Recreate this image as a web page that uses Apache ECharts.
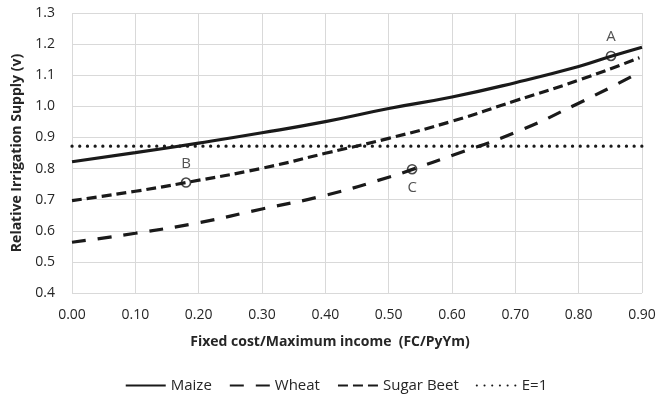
<!DOCTYPE html>
<html>
<head>
<meta charset="utf-8">
<script src="https://cdn.jsdelivr.net/npm/echarts@6/dist/echarts.min.js"></script>
<style>
  html, body { margin: 0; padding: 0; background: #fff; }
  #chart { width: 672px; height: 401px; }
</style>
</head>
<body>
<div id="chart"></div>
<script>
// values
var maizeX = [0, 0.1, 0.2, 0.3, 0.4, 0.5, 0.6, 0.7, 0.8, 0.85, 0.9];
var maizeY = [0.822, 0.851, 0.882, 0.915, 0.951, 0.993, 1.03, 1.076, 1.128, 1.16, 1.19];

var wheatX = [0, 0.1, 0.2, 0.3, 0.4, 0.5, 0.54, 0.6, 0.7, 0.8, 0.883];
var wheatY = [0.563, 0.592, 0.626, 0.67, 0.714, 0.772, 0.799, 0.842, 0.916, 1.01, 1.095];

var beetX = [0, 0.1, 0.18, 0.3, 0.4, 0.5, 0.6, 0.7, 0.8, 0.896];
var beetY = [0.697, 0.727, 0.755, 0.801, 0.849, 0.897, 0.952, 1.018, 1.084, 1.156];

var eX = [0, 0.9];
var eY = [0.872, 0.872];

var markNames = ['A', 'B', 'C'];
var markX = [0.851, 0.18, 0.537];
var markY = [1.162, 0.755, 0.798];
var markPos = ['top', 'top', 'bottom'];

function pairs(xs, ys) {
  return xs.map(function (x, i) { return [x, ys[i]]; });
}

var font = '"Open Sans", Lato, sans-serif';
var ink = '#1a1a1a';
var txt = '#262626';
var myChart = echarts.init(document.getElementById('chart'));

var option = {
  animation: false,
  textStyle: { fontFamily: font },
  grid: { left: 72, right: 30, top: 13, bottom: 108 },
  legend: {
    data: ['Maize', 'Wheat', 'Sugar Beet', 'E=1'],
    bottom: 3,
    left: 'center',
    itemWidth: 40,
    itemHeight: 12,
    itemGap: 17,
    itemStyle: { opacity: 0 },
    textStyle: { fontSize: 15, color: txt, fontFamily: font }
  },
  xAxis: {
    type: 'value',
    min: 0,
    max: 0.9,
    interval: 0.1,
    name: 'Fixed cost/Maximum income  (FC/PyYm)',
    nameLocation: 'middle',
    nameGap: 42,
    nameTextStyle: { fontSize: 14, fontWeight: 'bold', color: txt, padding: [0, 54, 0, 0] },
    axisLine: { show: false },
    axisTick: { show: false },
    axisLabel: {
      margin: 15, fontSize: 14, color: txt,
      formatter: function (v) { return v.toFixed(2); }
    },
    splitLine: { show: true, lineStyle: { color: '#d9d9d9', width: 1 } }
  },
  yAxis: {
    type: 'value',
    min: 0.4,
    max: 1.3,
    interval: 0.1,
    name: 'Relative Irrigation Supply (v)',
    nameLocation: 'middle',
    nameGap: 44,
    nameTextStyle: { fontSize: 14, fontWeight: 'bold', color: txt },
    axisLine: { show: false },
    axisTick: { show: false },
    axisLabel: {
      margin: 17, fontSize: 14, color: txt,
      formatter: function (v) { return v.toFixed(1); }
    },
    splitLine: { show: true, lineStyle: { color: '#d9d9d9', width: 1 } }
  },
  series: [
    {
      name: 'Maize', type: 'line', smooth: true, symbol: 'none',
      data: pairs(maizeX, maizeY),
      lineStyle: { color: ink, width: 3.2, type: 'solid' },
      itemStyle: { color: ink }
    },
    {
      name: 'Wheat', type: 'line', smooth: true, symbol: 'none',
      data: pairs(wheatX, wheatY),
      lineStyle: { color: ink, width: 3.2, type: [14, 12] },
      itemStyle: { color: ink }
    },
    {
      name: 'Sugar Beet', type: 'line', smooth: true, symbol: 'none',
      data: pairs(beetX, beetY),
      lineStyle: { color: ink, width: 3.2, type: [10, 5] },
      itemStyle: { color: ink }
    },
    {
      name: 'E=1', type: 'line', symbol: 'none',
      data: pairs(eX, eY),
      lineStyle: { color: ink, width: 3.2, type: [0.1, 7.6], cap: 'round' },
      itemStyle: { color: ink }
    },
    {
      name: 'points', type: 'scatter', z: 5,
      symbol: 'circle', symbolSize: 9,
      itemStyle: { color: 'rgba(255,255,255,0)', borderColor: ink, borderWidth: 1.6 },
      data: markNames.map(function (n, i) {
        return {
          name: n, value: [markX[i], markY[i]],
          label: { show: true, position: markPos[i], distance: 6, formatter: n,
                   fontSize: 15, color: txt, fontFamily: font }
        };
      })
    }
  ]
};
myChart.setOption(option);
</script>
</body>
</html>
